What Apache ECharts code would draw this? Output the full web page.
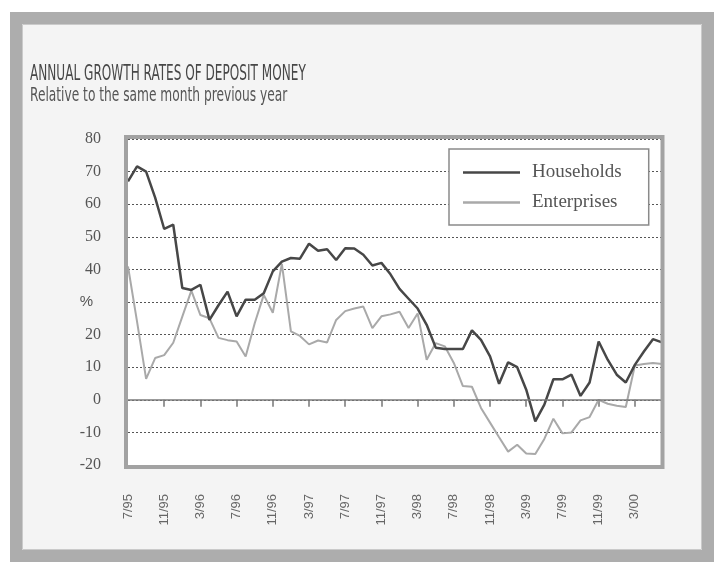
<!DOCTYPE html>
<html>
<head>
<meta charset="utf-8">
<script src="https://cdn.jsdelivr.net/npm/echarts@6/dist/echarts.min.js"></script>
<style>
html,body{margin:0;padding:0;background:#fff;}
#chart{width:714px;height:562px;}
</style>
</head>
<body>
<div id="chart"></div>
<script>
// Monthly categories 7/95 .. 6/00
const months = ["7/95","8/95","9/95","10/95","11/95","12/95",
  "1/96","2/96","3/96","4/96","5/96","6/96","7/96","8/96","9/96","10/96","11/96","12/96",
  "1/97","2/97","3/97","4/97","5/97","6/97","7/97","8/97","9/97","10/97","11/97","12/97",
  "1/98","2/98","3/98","4/98","5/98","6/98","7/98","8/98","9/98","10/98","11/98","12/98",
  "1/99","2/99","3/99","4/99","5/99","6/99","7/99","8/99","9/99","10/99","11/99","12/99",
  "1/00","2/00","3/00","4/00","5/00","6/00"];

const households = [67, 71.6, 70, 62, 52.4, 53.7, 34.3, 33.7, 35.3, 24.5,
  29, 33.2, 25.6, 30.7, 30.7, 32.7, 39.4, 42.4, 43.5, 43.3,
  47.9, 45.7, 46.2, 42.9, 46.5, 46.4, 44.5, 41.2, 42, 38.5,
  34, 31, 28, 23, 16, 15.6, 15.6, 15.6, 21.3, 18.4,
  13.3, 4.9, 11.5, 10, 3.1, -6.6, -1.5, 6.3, 6.3, 7.7,
  1.2, 5.3, 17.9, 12.3, 7.7, 5.3, 10.7, 14.8, 18.6, 17.6];

const enterprises = [40.9, 24, 6.4, 12.8, 13.7, 17.5, 25.5, 33.5, 26, 25,
  19, 18.3, 17.9, 13.3, 23.5, 32.2, 26.7, 41.7, 21, 19.6,
  17, 18.2, 17.6, 24.5, 27.2, 28, 28.6, 22, 25.6, 26.2,
  27, 22, 26.5, 12.3, 17.4, 16.4, 11.3, 4.2, 4, -2.5,
  -7, -11.5, -15.9, -13.8, -16.5, -16.6, -12, -5.8, -10.3, -10,
  -6.3, -5.3, 0, -1.2, -1.8, -2.2, 10.5, 11, 11.3, 11];

const seriesNames = ["Households", "Enterprises"];
const titleText = "ANNUAL GROWTH RATES OF DEPOSIT MONEY";
const subtitleText = "Relative to the same month previous year";
const unitText = "%";
const unitTickValue = 30; // the % sign stands in place of the 30 tick label
const lastLabelIndex = 56; // 3/00

const condensed = '"Liberation Sans Narrow", "DejaVu Sans Condensed", sans-serif';
const chart = echarts.init(document.getElementById('chart'), null, {renderer: 'canvas'});

chart.setOption({
  animation: false,
  backgroundColor: 'transparent',
  graphic: [
    { type: 'rect', z: -10, silent: true,
      shape: { x: 16, y: 18, width: 692, height: 538 },
      style: { fill: '#f4f4f4', stroke: '#adadad', lineWidth: 12 } },
    { type: 'rect', z: -9, silent: true,
      shape: { x: 22.5, y: 24.5, width: 679, height: 525 },
      style: { fill: 'none', stroke: '#cacaca', lineWidth: 1 } },
    { type: 'rect', z: 50, silent: true,
      shape: { x: 126, y: 137, width: 536.5, height: 330 },
      style: { fill: 'none', stroke: '#a2a2a2', lineWidth: 4 } },
    { type: 'text', z: 60, silent: true,
      x: 30, y: 64, scaleX: 0.64, scaleY: 1,
      style: { text: titleText, fontFamily: condensed, fontSize: 21,
               fill: '#474747', textVerticalAlign: 'top' } },
    { type: 'text', z: 60, silent: true,
      x: 30, y: 87, scaleX: 0.715, scaleY: 1,
      style: { text: subtitleText, fontFamily: condensed, fontSize: 19,
               fill: '#555', textVerticalAlign: 'top' } }
  ],
  grid: {
    left: 128, right: 52, top: 139, bottom: 97,
    show: true, backgroundColor: '#fff', borderWidth: 0
  },
  legend: {
    data: seriesNames.map(n => ({ name: n, icon: 'rect' })),
    orient: 'vertical',
    left: 449, top: 149,
    padding: [14, 27, 13, 14],
    itemGap: 11,
    itemWidth: 57,
    itemHeight: 2.5,
    backgroundColor: '#fff',
    borderColor: '#8a8a8a',
    borderWidth: 1.5,
    borderRadius: 0,
    textStyle: {
      fontFamily: '"Liberation Serif", "DejaVu Serif", serif',
      fontSize: 19, color: '#555', padding: [0, 0, 0, 7]
    }
  },
  xAxis: {
    type: 'category',
    data: months,
    boundaryGap: false,
    offset: 13,
    axisLine: { show: false },
    axisTick: {
      show: true, length: 7,
      interval: (idx) => idx % 4 === 0 && idx > 0 && idx <= lastLabelIndex,
      lineStyle: { color: '#777', width: 1.5 }
    },
    axisLabel: {
      rotate: 90, margin: 16,
      interval: (idx) => idx % 4 === 0 && idx <= lastLabelIndex,
      fontFamily: '"Liberation Sans", Arial, sans-serif',
      fontSize: 13, color: '#666'
    },
    splitLine: { show: false }
  },
  yAxis: {
    type: 'value',
    min: -20, max: 80, interval: 10,
    axisLine: { show: false },
    axisTick: { show: false },
    axisLabel: {
      margin: 27,
      fontFamily: '"Liberation Serif", "DejaVu Serif", serif',
      fontSize: 16, color: '#555',
      formatter: (v) => v === unitTickValue ? '{u|' + unitText + '}' : String(v),
      rich: {
        u: { fontFamily: '"Liberation Sans", Arial, sans-serif', fontSize: 15,
             color: '#555', padding: [0, 8, 0, 0] }
      }
    },
    splitLine: { show: true, lineStyle: { color: '#555', type: [2, 2], width: 1 } }
  },
  series: [
    {
      name: seriesNames[0], type: 'line', data: households,
      symbol: 'none', z: 4,
      lineStyle: { color: '#474747', width: 2.5 },
      itemStyle: { color: '#474747' }
    },
    {
      name: seriesNames[1], type: 'line', data: enterprises,
      symbol: 'none', z: 3,
      lineStyle: { color: '#a9a9a9', width: 2 },
      itemStyle: { color: '#a9a9a9' },
      markLine: {
        silent: true, symbol: 'none',
        label: { show: false },
        lineStyle: { color: '#7a7a7a', type: 'solid', width: 1.5 },
        data: [{ yAxis: 0 }]
      }
    }
  ]
});
</script>
</body>
</html>
